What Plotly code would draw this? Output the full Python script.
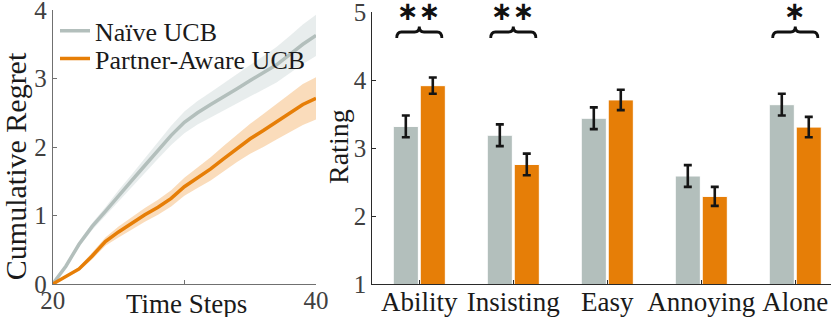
import plotly.graph_objects as go

# ---------------- data ----------------
steps = list(range(20, 41))
naive_mean = [0, 0.26, 0.58, 0.84, 1.06, 1.29, 1.51, 1.73, 1.95, 2.17, 2.36,
              2.50, 2.62, 2.73, 2.85, 2.97, 3.08, 3.20, 3.35, 3.50, 3.63]
naive_err = [0, 0.02, 0.04, 0.05, 0.06, 0.08, 0.09, 0.11, 0.12, 0.14, 0.16,
             0.17, 0.18, 0.20, 0.21, 0.23, 0.24, 0.26, 0.27, 0.29, 0.30]
aware_mean = [0, 0.11, 0.22, 0.41, 0.62, 0.76, 0.89, 1.01, 1.12, 1.25, 1.42,
              1.55, 1.68, 1.83, 1.98, 2.12, 2.24, 2.37, 2.50, 2.62, 2.71]
aware_err = [0, 0.02, 0.03, 0.05, 0.06, 0.08, 0.09, 0.10, 0.11, 0.12, 0.13,
             0.15, 0.17, 0.19, 0.20, 0.22, 0.24, 0.26, 0.28, 0.30, 0.31]

categories = ["Ability", "Insisting", "Easy", "Annoying", "Alone"]
naive_rating = [3.32, 3.19, 3.44, 2.59, 3.64]
naive_rating_err = [0.16, 0.16, 0.16, 0.16, 0.16]
aware_rating = [3.92, 2.76, 3.71, 2.29, 3.31]
aware_rating_err = [0.12, 0.16, 0.15, 0.14, 0.15]
significance = ["**", "**", "", "", "*"]

series_names = ["Naïve UCB", "Partner-Aware UCB"]
left_xticks = [20, 30, 40]
left_xticktext = ["20", "", "40"]
left_yticks = [0, 1, 2, 3, 4]
right_yticks = [1, 2, 3, 4, 5]

# ---------------- style ----------------
GRAY = "#b3bfbc"
GRAY_BAND = "rgba(179,197,197,0.30)"
ORANGE = "#e67e07"
ORANGE_BAND = "rgba(240,150,50,0.33)"
FONT = "Liberation Serif, DejaVu Serif, serif"
W, H = 831, 317

positions = list(range(1, len(categories) + 1))

fig = go.Figure()

upper_n = [m + e for m, e in zip(naive_mean, naive_err)]
lower_n = [m - e for m, e in zip(naive_mean, naive_err)]
upper_a = [m + e for m, e in zip(aware_mean, aware_err)]
lower_a = [m - e for m, e in zip(aware_mean, aware_err)]

fig.add_trace(go.Scatter(x=steps + steps[::-1], y=upper_n + lower_n[::-1],
                         fill="toself", fillcolor=GRAY_BAND, line=dict(width=0),
                         hoverinfo="skip", showlegend=False, xaxis="x", yaxis="y"))
fig.add_trace(go.Scatter(x=steps + steps[::-1], y=upper_a + lower_a[::-1],
                         fill="toself", fillcolor=ORANGE_BAND, line=dict(width=0),
                         hoverinfo="skip", showlegend=False, xaxis="x", yaxis="y"))
fig.add_trace(go.Scatter(x=steps, y=naive_mean, mode="lines", name=series_names[0],
                         line=dict(color=GRAY, width=3.5), xaxis="x", yaxis="y",
                         legend="legend"))
fig.add_trace(go.Scatter(x=steps, y=aware_mean, mode="lines", name=series_names[1],
                         line=dict(color=ORANGE, width=3.5), xaxis="x", yaxis="y",
                         legend="legend2"))

fig.add_trace(go.Bar(x=positions, y=naive_rating, base=0, offset=-0.277, width=0.267,
                     marker=dict(color=GRAY, line=dict(color="white", width=1)),
                     error_y=dict(type="data", array=naive_rating_err, color="#151515",
                                  thickness=2.6, width=4),
                     showlegend=False, xaxis="x2", yaxis="y2"))
fig.add_trace(go.Bar(x=positions, y=aware_rating, base=0, offset=0.01, width=0.267,
                     marker=dict(color=ORANGE, line=dict(color="white", width=1)),
                     error_y=dict(type="data", array=aware_rating_err, color="#151515",
                                  thickness=2.6, width=4),
                     showlegend=False, xaxis="x2", yaxis="y2"))


def brace_path(xc, half, yb, ym, yt):
    r = 0.05
    x0, x1 = xc - half, xc + half
    return (f"M {x0},{yb} Q {x0},{ym} {x0 + r},{ym} L {xc - r},{ym} "
            f"Q {xc},{ym} {xc},{yt} Q {xc},{ym} {xc + r},{ym} "
            f"L {x1 - r},{ym} Q {x1},{ym} {x1},{yb}")


for pos, sig in zip(positions, significance):
    if not sig:
        continue
    fig.add_shape(type="path", path=brace_path(pos, 0.24, 4.62, 4.71, 4.79),
                  xref="x2", yref="y2", line=dict(color="#111111", width=2.8))
    fig.add_annotation(x=pos, y=1.004, xref="x2", yref="y2 domain", text="∗" * len(sig),
                       showarrow=False, yanchor="middle",
                       font=dict(family="DejaVu Sans", size=26, color="#111111",
                                 weight="bold"))

fig.add_annotation(x=15 / W, y=0.43, xref="paper", yref="paper", text="Cumulative Regret",
                   textangle=-90, showarrow=False, xanchor="center", yanchor="middle",
                   font=dict(family=FONT, size=30, color="#1a1a1a"))
fig.add_annotation(x=186 / W, y=-0.01, xref="paper", yref="paper", text="Time Steps",
                   showarrow=False, xanchor="center", yanchor="top",
                   font=dict(family=FONT, size=27, color="#1a1a1a"))
fig.add_annotation(x=338 / W, y=0.5, xref="paper", yref="paper", text="Rating",
                   textangle=-90, showarrow=False, xanchor="center", yanchor="middle",
                   font=dict(family=FONT, size=28, color="#1a1a1a"))

left_axis_col = "#707070"
right_axis_col = "#2a2a2a"
tickfont = dict(family=FONT, size=25, color="#404040")
common = dict(ticks="inside", ticklen=4, showline=True, linewidth=1, showgrid=False,
              zeroline=False, automargin=False, ticklabeloverflow="allow")

fig.update_layout(
    width=W, height=H,
    margin=dict(l=0, r=0, t=10, b=33),
    paper_bgcolor="white", plot_bgcolor="white",
    barmode="overlay",
    font=dict(family=FONT),
    xaxis=dict(domain=[52.7 / W, 316 / W], range=[20, 40], tickvals=left_xticks,
               ticktext=left_xticktext, tickcolor=left_axis_col,
               linecolor=left_axis_col, tickfont=tickfont, anchor="y",
               ticklabelstandoff=-6, **common),
    yaxis=dict(domain=[0, 1], range=[0, 4], tickvals=left_yticks,
               tickcolor=left_axis_col, linecolor=left_axis_col,
               tickfont=tickfont, anchor="x", **common),
    xaxis2=dict(domain=[372.3 / W, 1.0], range=[0.5, 5.38], tickvals=positions,
                ticktext=categories, tickcolor=right_axis_col,
                linecolor=right_axis_col,
                tickfont=dict(family=FONT, size=27, color="#1a1a1a"), anchor="y2",
                ticklabelstandoff=-6, **common),
    yaxis2=dict(domain=[0, 0.9916], range=[1, 5], tickvals=right_yticks,
                tickcolor=right_axis_col, linecolor=right_axis_col,
                tickfont=tickfont, anchor="x2", **common),
    legend=dict(x=55 / W, y=1.01, xanchor="left", yanchor="top",
                bgcolor="rgba(0,0,0,0)", font=dict(family=FONT, size=26, color="#1a1a1a"),
                itemwidth=30),
    legend2=dict(x=55 / W, y=0.908, xanchor="left", yanchor="top",
                 bgcolor="rgba(0,0,0,0)", font=dict(family=FONT, size=26, color="#1a1a1a"),
                 itemwidth=30),
)

fig.write_html("out.html", config={"displayModeBar": False},
               post_script="document.body.style.margin='0';")
